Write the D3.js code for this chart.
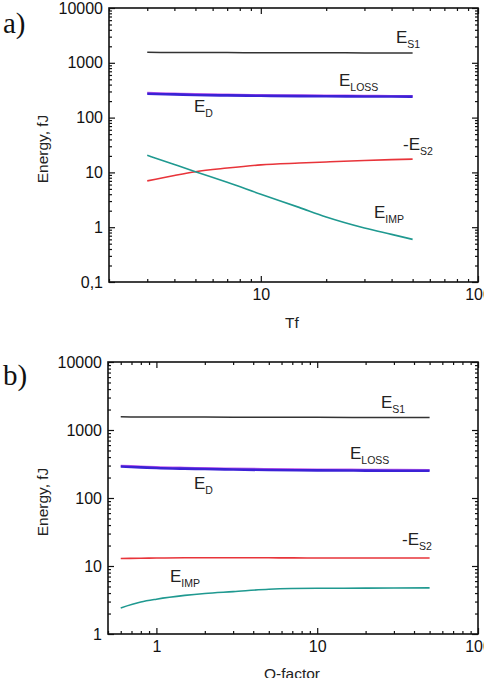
<!DOCTYPE html>
<html>
<head>
<meta charset="utf-8">
<script src="https://cdn.jsdelivr.net/npm/d3@7"></script>
<style>
  body { margin: 0; background: #fff; }
  svg { display: block; font-family: "Liberation Sans", Arial, sans-serif; }
</style>
</head>
<body>
<svg width="484" height="678"></svg>
<script>
// panel a : energy vs Tf
var tfValues = [3, 4, 5, 7, 10, 15, 20, 30, 40, 50];
var aES1   = [1550, 1545, 1540, 1535, 1530, 1525, 1520, 1515, 1510, 1505];
var aELoss = [282, 274, 268, 262, 257, 254, 252, 250, 248, 247];
var aED    = [272, 265, 259, 254, 250, 247, 245, 243, 242, 241];
var aES2   = [7.0, 8.8, 10.3, 12.0, 13.7, 14.8, 15.5, 16.5, 17.1, 17.5];
var aEImp  = [20.5, 13.9, 10.3, 6.6, 4.0, 2.3, 1.54, 0.97, 0.74, 0.6];
var aYTicks = [0.1, 1, 10, 100, 1000, 10000];
var aXTicks = [10, 100];

// panel b : energy vs Q-factor
var qValues = [0.6, 0.8, 1, 1.5, 2, 3, 5, 10, 20, 30, 50];
var bES1   = [1560, 1558, 1555, 1552, 1550, 1545, 1540, 1535, 1530, 1528, 1525];
var bELoss = [298, 290, 284, 278, 275, 270, 266, 262, 260, 259, 258];
var bED    = [290, 282, 276, 270, 267, 262, 258, 255, 253, 252, 251];
var bES2   = [12.9, 13.0, 13.1, 13.2, 13.2, 13.2, 13.2, 13.1, 13.1, 13.1, 13.1];
var bEImp  = [2.42, 2.95, 3.25, 3.7, 3.95, 4.2, 4.55, 4.7, 4.72, 4.74, 4.76];
var bYTicks = [1, 10, 100, 1000, 10000];
var bXTicks = [1, 10, 100];

var svg = d3.select("svg");

function fmt(d) {
  return String(d).replace(".", ",");
}

function drawPanel(p) {
  var x = d3.scaleLog().domain(p.xDomain).range([p.left, p.right]);
  var y = d3.scaleLog().domain(p.yDomain).range([p.bottom, p.top]);
  var g = svg.append("g");

  // minor + major ticks, all pointing inward
  var xMinor = x.ticks().filter(function(d){ return p.xTicks.indexOf(d) < 0; });
  var yMinor = y.ticks().filter(function(d){ return p.yTicks.indexOf(d) < 0; });

  function tickGroup(axis, tr) {
    var a = g.append("g").attr("transform", tr).call(axis);
    a.select(".domain").remove();
    a.selectAll("line").attr("stroke", "#111").attr("stroke-width", 1.2);
    return a;
  }
  tickGroup(d3.axisBottom(x).tickValues(xMinor).tickSize(-3).tickFormat(""), "translate(0," + p.bottom + ")");
  tickGroup(d3.axisTop(x).tickValues(xMinor).tickSize(-3).tickFormat(""), "translate(0," + p.top + ")");
  tickGroup(d3.axisTop(x).tickValues(p.xTicks).tickSize(-6).tickFormat(""), "translate(0," + p.top + ")");
  tickGroup(d3.axisLeft(y).tickValues(yMinor).tickSize(-3).tickFormat(""), "translate(" + p.left + ",0)");
  tickGroup(d3.axisRight(y).tickValues(yMinor).tickSize(-3).tickFormat(""), "translate(" + p.right + ",0)");
  tickGroup(d3.axisRight(y).tickValues(p.yTicks).tickSize(-6).tickFormat(""), "translate(" + p.right + ",0)");

  var xb = tickGroup(d3.axisBottom(x).tickValues(p.xTicks).tickSize(-6).tickPadding(7).tickFormat(fmt), "translate(0," + p.bottom + ")");
  xb.selectAll("text").attr("font-size", 16).attr("fill", "#111").attr("font-family", "Liberation Sans, Arial, sans-serif");
  var yl = tickGroup(d3.axisLeft(y).tickValues(p.yTicks).tickSize(-6).tickPadding(6).tickFormat(fmt), "translate(" + p.left + ",0)");
  yl.selectAll("text").attr("font-size", 16).attr("fill", "#111").attr("font-family", "Liberation Sans, Arial, sans-serif");

  // frame
  g.append("rect")
    .attr("x", p.left).attr("y", p.top)
    .attr("width", p.right - p.left).attr("height", p.bottom - p.top)
    .attr("fill", "none").attr("stroke", "#111").attr("stroke-width", 1.6);

  // curves
  var line = d3.line()
    .x(function(d){ return x(d[0]); })
    .y(function(d){ return y(d[1]); })
    .curve(d3.curveMonotoneX);
  p.series.forEach(function(s) {
    g.append("path")
      .datum(p.xs.map(function(v, i){ return [v, s.values[i]]; }))
      .attr("fill", "none")
      .attr("stroke", s.color)
      .attr("stroke-width", s.width)
      .attr("stroke-opacity", s.opacity || 1)
      .attr("d", line);
  });

  // curve labels
  p.labels.forEach(function(l) {
    var t = g.append("text").attr("x", l.x).attr("y", l.y)
      .attr("font-size", 17).attr("fill", "#222");
    t.append("tspan").text(l.main);
    t.append("tspan").attr("font-size", 10.5).attr("dy", 5).text(l.sub);
  });

  // axis titles
  g.append("text")
    .attr("transform", "translate(" + p.yTitleX + "," + ((p.top + p.bottom) / 2 + 4) + ") rotate(-90)")
    .attr("text-anchor", "middle").attr("font-size", 15.5).attr("fill", "#222")
    .text("Energy, fJ");
  g.append("text")
    .attr("x", 292).attr("y", p.xTitleY)
    .attr("text-anchor", "middle").attr("font-size", 15.5).attr("fill", "#222")
    .text(p.xTitle);

  // panel letter
  g.append("text")
    .attr("x", 3).attr("y", p.letterY)
    .attr("font-family", "Liberation Serif, Times New Roman, serif")
    .attr("font-size", 29).attr("fill", "#111")
    .text(p.letter);
}

drawPanel({
  letter: "a)", letterY: 33,
  left: 109, right: 478, top: 8, bottom: 282,
  xDomain: [2, 100], yDomain: [0.1, 10000],
  xTicks: aXTicks, yTicks: aYTicks,
  xs: tfValues, xTitle: "Tf", xTitleY: 328, yTitleX: 48,
  series: [
    { values: aES1, color: "#333", width: 1.5 },
    { values: aELoss, color: "#c040e8", width: 2.2, opacity: 0.85 },
    { values: aED, color: "#3b22d6", width: 2.6 },
    { values: aES2, color: "#e8343a", width: 1.6 },
    { values: aEImp, color: "#1f9990", width: 1.6 }
  ],
  labels: [
    { main: "E", sub: "S1", x: 396, y: 43 },
    { main: "E", sub: "LOSS", x: 339, y: 86 },
    { main: "E", sub: "D", x: 194, y: 112 },
    { main: "-E", sub: "S2", x: 403, y: 150 },
    { main: "E", sub: "IMP", x: 374, y: 218 }
  ]
});

drawPanel({
  letter: "b)", letterY: 385,
  left: 108, right: 478, top: 362, bottom: 634,
  xDomain: [0.5, 100], yDomain: [1, 10000],
  xTicks: bXTicks, yTicks: bYTicks,
  xs: qValues, xTitle: "Q-factor", xTitleY: 679, yTitleX: 48,
  series: [
    { values: bES1, color: "#333", width: 1.5 },
    { values: bELoss, color: "#c040e8", width: 2.2, opacity: 0.85 },
    { values: bED, color: "#3b22d6", width: 2.6 },
    { values: bES2, color: "#e8343a", width: 1.6 },
    { values: bEImp, color: "#1f9990", width: 1.6 }
  ],
  labels: [
    { main: "E", sub: "S1", x: 381, y: 408 },
    { main: "E", sub: "LOSS", x: 350, y: 459 },
    { main: "E", sub: "D", x: 194, y: 489 },
    { main: "-E", sub: "S2", x: 402, y: 545 },
    { main: "E", sub: "IMP", x: 170, y: 582 }
  ]
});
</script>
</body>
</html>
